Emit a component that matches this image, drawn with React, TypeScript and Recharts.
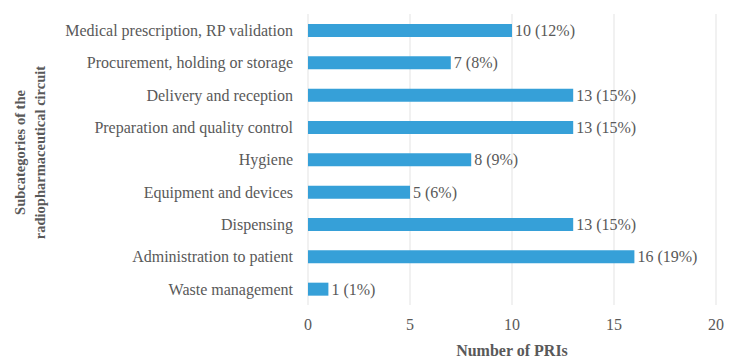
import React from 'react';
import { BarChart, Bar, XAxis, YAxis, CartesianGrid, LabelList, Label } from 'recharts';

const categories = [
  'Medical prescription, RP validation',
  'Procurement, holding or storage',
  'Delivery and reception',
  'Preparation and quality control',
  'Hygiene',
  'Equipment and devices',
  'Dispensing',
  'Administration to patient',
  'Waste management',
];
const counts = [10, 7, 13, 13, 8, 5, 13, 16, 1];
const percents = [12, 8, 15, 15, 9, 6, 15, 19, 1];
const xTicks = [0, 5, 10, 15, 20];

const data = categories.map((name, i) => ({ name, count: counts[i], pct: percents[i] }));

const FONT = '"Liberation Serif", serif';
const TEXT = '#595959';

// two-line rotated y axis title
const YTitle = (props: any) => {
  const vb = props.viewBox || {};
  const cy = vb.y + vb.height / 2 - 7;
  return (
    <text
      transform={`translate(29, ${cy}) rotate(-90)`}
      textAnchor="middle"
      fill={TEXT}
      fontFamily={FONT}
      fontSize={14.5}
      fontWeight="bold"
    >
      <tspan x={0} dy={-4}>Subcategories of the</tspan>
      <tspan x={0} dy={20}>radiopharmaceutical circuit</tspan>
    </text>
  );
};

export default function App() {
  return (
    <div style={{ position: 'fixed', left: 0, top: 0, width: 737, height: 364, background: '#fff' }}>
      <BarChart
        width={737}
        height={364}
        data={data}
        layout="vertical"
        margin={{ top: 14, right: 21, bottom: 29, left: 8 }}
        barSize={13}
      >
        <CartesianGrid horizontal={false} stroke="#e3e3e3" />
        <XAxis
          type="number"
          domain={[0, 20]}
          ticks={xTicks}
          axisLine={false}
          tickLine={false}
          tickMargin={8}
          height={30}
          tick={{ fill: TEXT, fontSize: 16, fontFamily: FONT }}
        >
          <Label
            value="Number of PRIs"
            position="bottom"
            offset={0}
            dy={10}
            fill={TEXT}
            fontFamily={FONT}
            fontSize={16}
            fontWeight="bold"
          />
        </XAxis>
        <YAxis
          type="category"
          dataKey="name"
          width={300}
          axisLine={false}
          tickLine={false}
          tickMargin={9}
          interval={0}
          tick={{ fill: TEXT, fontSize: 16, fontFamily: FONT }}
        >
          <Label content={<YTitle />} />
        </YAxis>
        <Bar dataKey="count" fill="#36a0d8" isAnimationActive={false}>
          <LabelList
            dataKey="pct"
            content={(p: any) => {
              const { x, y, width, height, index } = p;
              return (
                <text
                  x={x + width + 3}
                  y={y + height / 2}
                  dy="0.35em"
                  fill={TEXT}
                  fontFamily={FONT}
                  fontSize={16}
                >
                  {`${counts[index]} (${percents[index]}%)`}
                </text>
              );
            }}
          />
        </Bar>
      </BarChart>
    </div>
  );
}
